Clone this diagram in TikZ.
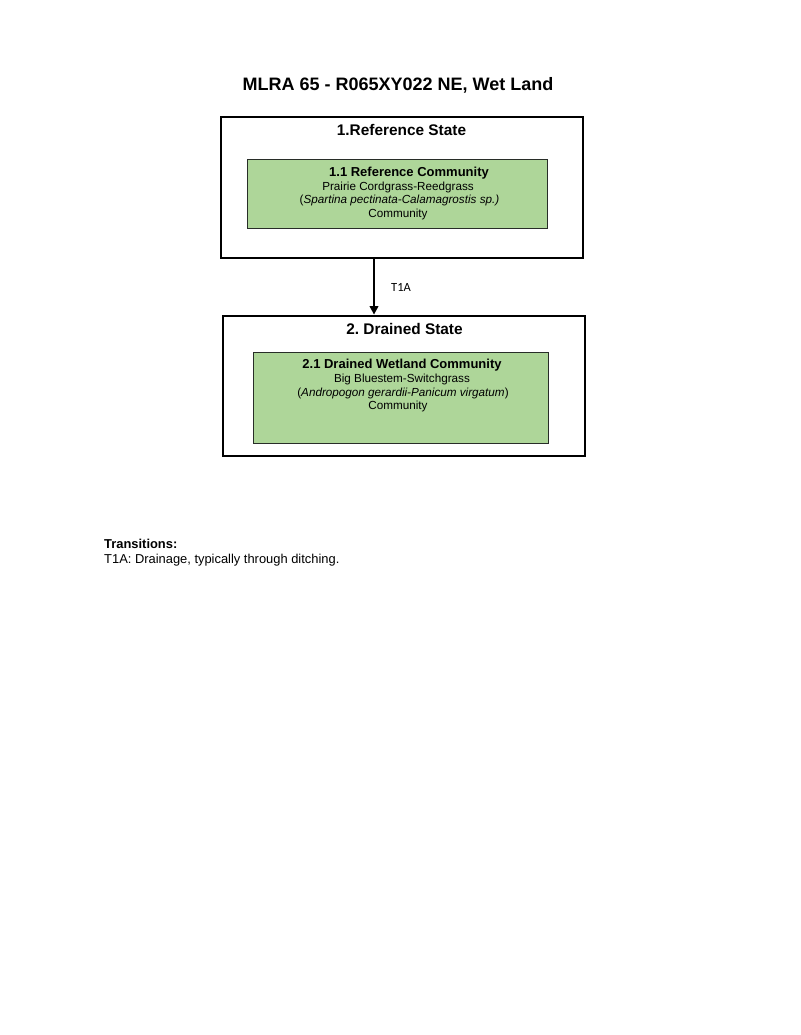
\documentclass[tikz,border=0pt]{standalone}
\usepackage{fontspec}
\setmainfont{Liberation Sans}
\newfontfamily\calib{Carlito}
\usetikzlibrary{arrows.meta}
\frenchspacing
\definecolor{commgreen}{RGB}{174,214,153}
\definecolor{commedge}{RGB}{40,45,40}
\tikzset{
  statebox/.style={draw=black, line width=2.8pt, fill=white, minimum width=#1, inner sep=0pt},
  commbox/.style={draw=commedge, line width=1.3pt, fill=commgreen, inner sep=0pt},
  txt/.style={inner sep=0pt, anchor=base, font=\fontsize{11.7}{13.5}\selectfont},
  stitle/.style={inner sep=0pt, anchor=base, font=\bfseries\fontsize{15.4}{18}\selectfont},
  ctitle/.style={inner sep=0pt, anchor=base, font=\bfseries\fontsize{13}{15}\selectfont},
  note/.style={inner sep=0pt, anchor=base west, font=\fontsize{12.9}{15}\selectfont},
  trans/.style={-{Triangle[width=8.5pt,length=8.5pt]}, line width=2pt}
}
\begin{document}
\begin{tikzpicture}[x=1pt,y=-1pt]
\useasboundingbox[fill=white] (0,0) rectangle (800,1035);
% title
\node[inner sep=0pt, anchor=base, font=\bfseries\fontsize{18}{21}\selectfont] (title) at (398,91) {MLRA 65 - R065XY022 NE, Wet Land};
% state 1
\node[statebox=362pt, minimum height=141pt] (s1) at (402,187.5) {};
\node[stitle] (s1t) at (401.5,136) {1.Reference State};
\node[commbox, minimum width=300pt, minimum height=69pt] (c1) at (397.5,194) {};
\node[ctitle] (c1t) at (409,177) {1.1 Reference Community};
\node[txt] (c1a) at (398,190.5) {Prairie Cordgrass-Reedgrass};
\node[txt] (c1b) at (399.5,204) {(\textit{Spartina pectinata-Calamagrostis sp.)}};
\node[txt] (c1c) at (398,217.5) {Community};
% state 2
\node[statebox=362pt, minimum height=140pt] (s2) at (404,386) {};
\node[stitle] (s2t) at (404.5,334) {2. Drained State};
\node[commbox, minimum width=295pt, minimum height=91pt] (c2) at (401,398) {};
\node[ctitle] (c2t) at (402,368) {2.1 Drained Wetland Community};
\node[txt] (c2a) at (402,382.5) {Big Bluestem-Switchgrass};
\node[txt] (c2b) at (403,396) {(\textit{Andropogon gerardii-Panicum virgatum})};
\node[txt] (c2c) at (398,409.5) {Community};
% transition
\coordinate (ax) at (374,0);
\draw[trans] (ax |- s1.south) -- (ax |- s2.north);
\node[inner sep=0pt, anchor=base west, font=\calib\fontsize{12.5}{14}\selectfont] (t1a) at (391,291) {T1A};
% notes
\node[note, font=\bfseries\fontsize{12.9}{15}\selectfont] (tr) at (104,548) {Transitions:};
\node[note] (tr1) at (104,563) {T1A: Drainage, typically through ditching.};
\end{tikzpicture}
\end{document}
